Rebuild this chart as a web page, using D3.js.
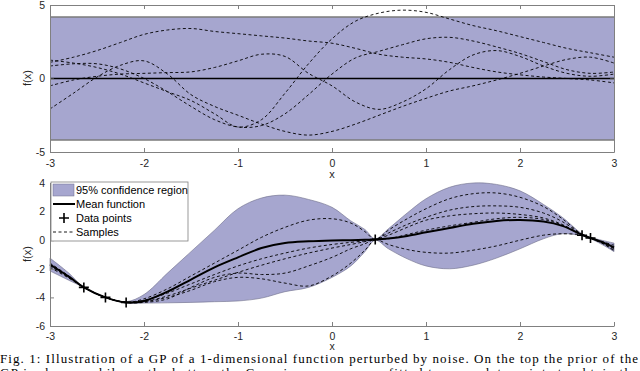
<!DOCTYPE html>
<html>
<head>
<meta charset="utf-8">
<script src="https://cdn.jsdelivr.net/npm/d3@7"></script>
<style>
body { margin: 0; background: #fff; }
text { font-family: "Liberation Sans", Arial, sans-serif; }
.tick text { font-size: 10.5px; fill: #262626; }
.tick line, .domain { stroke: #808080; }
</style>
</head>
<body>
<svg id="chart" width="640" height="371"></svg>
<script>
// prior (top panel)
var priorX = [-3, -2.75, -2.5, -2.25, -2, -1.75, -1.5, -1.25, -1, -0.75, -0.5, -0.25, 0,
              0.25, 0.5, 0.75, 1, 1.25, 1.5, 1.75, 2, 2.25, 2.5, 2.75, 3];
var priorBand = [4.18, -4.18];
var priorMean = [0, 0];
var priorA = [1.1, 1.45, 1.9, 2.45, 3.0, 3.3, 3.4, 3.2, 3.05, 2.9, 2.75, 2.55, 2.4,
              2.05, 1.65, 1.45, 1.33, 1.1, 0.75, 0.45, 0.25, 0.1, 0.0, -0.1, -0.3];
var priorB = [-0.5, -0.1, 0.15, 0.3, 0.35, 0.4, 0.45, 0.75, 1.2, 1.65, 1.5, 0.35, -0.5,
              -1.6, -2.1, -1.6, -0.7, 0.6, 1.6, 1.9, 1.5, 0.85, 0.35, 0.15, 0.3];
var priorC = [-2.07, -1.0, 0.1, 0.9, 1.2, 0.3, -1.1, -1.9, -2.5, -3.1, -3.6, -3.85, -3.6,
              -3.1, -2.5, -1.9, -1.35, -0.85, -0.5, -0.1, 0.35, 0.85, 1.3, 1.45, 1.05];
var priorD = [0.85, 1.0, 1.0, 0.65, 0.0, -0.9, -1.9, -2.8, -3.3, -3.2, -2.4, -1.1, 0.3,
              1.4, 1.85, 2.3, 2.7, 2.8, 2.55, 2.15, 1.7, 1.15, 0.6, 0.35, 0.44];
var priorE = [1.25, 1.05, 0.75, 0.3, -0.3, -0.9, -1.5, -2.4, -3.3, -2.8, -1.0, 1.0, 2.7,
              3.9, 4.45, 4.65, 4.5, 4.05, 3.6, 3.25, 2.85, 2.45, 2.05, 1.75, 1.45];

// posterior (bottom panel)
var postX = [-3, -2.8, -2.64, -2.41, -2.19, -2, -1.75, -1.5, -1.25, -1, -0.75, -0.5, -0.25, 0,
             0.2, 0.35, 0.46, 0.6, 0.8, 1, 1.25, 1.5, 1.75, 2, 2.25, 2.45, 2.66, 2.75, 2.9, 3];
var postMean = [-1.7, -2.55, -3.3, -4.0, -4.35, -4.25, -3.6, -2.75, -1.9, -1.2, -0.55, -0.2, -0.08, -0.02,
                0.0, 0.03, 0.05, 0.12, 0.3, 0.55, 0.85, 1.15, 1.35, 1.42, 1.3, 1.0, 0.38, 0.15, -0.2, -0.5];
var postUpper = [-1.25, -2.3, -3.3, -4.0, -4.3, -3.8, -2.3, -0.8, 0.7, 2.2, 2.95, 3.15, 2.85, 2.3,
                 1.35, 0.75, 0.1, 0.8, 1.9, 2.9, 3.7, 4.0, 3.9, 3.45, 2.5, 1.6, 0.45, 0.2, -0.05, -0.2];
var postLower = [-2.15, -2.8, -3.3, -4.0, -4.4, -4.4, -4.38, -4.35, -4.3, -4.25, -4.05, -3.6, -3.3, -2.6,
                 -1.8, -0.8, 0.0, -0.6, -1.3, -1.8, -2.0, -1.75, -1.25, -0.6, 0.1, 0.45, 0.3, 0.1, -0.4, -0.8];
var postS1 = [-1.6, -2.5, -3.3, -4.0, -4.35, -4.1, -3.4, -2.5, -1.6, -0.7, 0.2, 0.9, 1.4, 1.5,
              1.2, 0.6, 0.05, 0.7, 1.5, 2.2, 2.9, 3.25, 3.3, 3.0, 2.35, 1.5, 0.4, 0.15, -0.15, -0.35];
var postS2 = [-1.8, -2.6, -3.3, -4.0, -4.35, -4.2, -3.7, -3.05, -2.4, -1.8, -1.3, -0.9, -0.55, -0.3,
              -0.15, -0.05, 0.05, 0.5, 1.1, 1.6, 2.1, 2.35, 2.4, 2.3, 1.9, 1.3, 0.4, 0.15, -0.2, -0.55];
var postS3 = [-1.9, -2.65, -3.3, -4.0, -4.35, -4.3, -3.9, -3.35, -2.8, -2.25, -1.75, -1.3, -0.9, -0.55,
              -0.3, -0.1, 0.05, 0.35, 0.9, 1.4, 1.7, 1.85, 1.9, 1.8, 1.55, 1.1, 0.38, 0.15, -0.25, -0.6];
var postS4 = [-1.7, -2.55, -3.3, -4.0, -4.35, -4.3, -4.0, -3.5, -2.9, -2.6, -2.7, -3.0, -3.2, -2.5,
              -1.6, -0.7, 0.05, 0.1, 0.4, 0.7, 1.0, 1.25, 1.5, 1.6, 1.45, 1.05, 0.36, 0.15, -0.3, -0.7];
var postS5 = [-1.75, -2.6, -3.3, -4.0, -4.35, -4.35, -4.1, -3.3, -2.6, -2.3, -2.4, -2.3, -1.8, -1.2,
              -0.6, -0.25, 0.05, -0.3, -0.65, -0.85, -0.9, -0.7, -0.4, 0.0, 0.35, 0.45, 0.36, 0.15, -0.3, -0.75];
var dataX = [-2.64, -2.41, -2.19, 0.46, 2.66, 2.75];
var dataY = [-3.3, -4.0, -4.35, 0.05, 0.35, 0.15];

var xTicks = [-3, -2, -1, 0, 1, 2, 3];
var topYTicks = [-5, 0, 5];
var botYTicks = [-6, -4, -2, 0, 2, 4];
var legendLabels = ["95% confidence region", "Mean function", "Data points", "Samples"];
var captionLines = [
    "Fig. 1: Illustration of a GP of a 1-dimensional function perturbed by noise. On the top the prior of the",
    "GP is shown, while on the bottom the Gaussian process was fitted to some data points to obtain the"
];

var bandFill = "#a6a6cf";
var svg = d3.select("#chart");

var x = d3.scaleLinear().domain([-3, 3]).range([50, 614]);
var yTop = d3.scaleLinear().domain([-5, 5]).range([152, 5]);
var yBot = d3.scaleLinear().domain([-6, 4]).range([326, 183]);
var plain = function(d) { return String(d); };

function pairs(xs, ys) {
    return xs.map(function(v, i) { return [v, ys[i]]; });
}

function lineFor(y) {
    return d3.line()
        .x(function(d) { return x(d[0]); })
        .y(function(d) { return y(d[1]); })
        .curve(d3.curveCatmullRom.alpha(0.5));
}

// ---- top panel ----
var topG = svg.append("g");

topG.append("path")
    .datum([-3, 3])
    .attr("fill", bandFill)
    .attr("d", d3.area()
        .x(function(d) { return x(d); })
        .y0(yTop(priorBand[1]))
        .y1(yTop(priorBand[0])));

priorBand.forEach(function(b) {
    topG.append("line")
        .attr("x1", x(-3)).attr("x2", x(3))
        .attr("y1", yTop(b)).attr("y2", yTop(b))
        .attr("stroke", "#7a7a7a").attr("stroke-width", 1.4);
});

topG.append("path")
    .datum(pairs([-3, 3], priorMean))
    .attr("fill", "none").attr("stroke", "#000").attr("stroke-width", 1.3)
    .attr("d", lineFor(yTop));

[priorA, priorB, priorC, priorD, priorE].forEach(function(s) {
    topG.append("path")
        .datum(pairs(priorX, s))
        .attr("fill", "none").attr("stroke", "#000").attr("stroke-width", 0.9)
        .attr("stroke-dasharray", "3,2.5")
        .attr("d", lineFor(yTop));
});

topG.append("g").attr("transform", "translate(0,152)")
    .call(d3.axisBottom(x).tickValues(xTicks).tickFormat(plain)
        .tickSizeInner(-4).tickSizeOuter(0).tickPadding(8));
topG.append("g").attr("transform", "translate(0,5)")
    .call(d3.axisTop(x).tickValues(xTicks).tickSizeInner(-4).tickSizeOuter(0).tickFormat(""));
topG.append("g").attr("transform", "translate(50,0)")
    .call(d3.axisLeft(yTop).tickValues(topYTicks).tickFormat(plain)
        .tickSizeInner(-4).tickSizeOuter(0).tickPadding(5));
topG.append("g").attr("transform", "translate(614,0)")
    .call(d3.axisRight(yTop).tickValues(topYTicks).tickSizeInner(-4).tickSizeOuter(0).tickFormat(""));

topG.append("text").attr("x", 332).attr("y", 178).attr("text-anchor", "middle")
    .attr("font-size", 11).attr("fill", "#262626").text("x");
topG.append("text").attr("transform", "translate(31,78) rotate(-90)").attr("text-anchor", "middle")
    .attr("font-size", 11).attr("fill", "#262626").text("f(x)");

// ---- bottom panel ----
var botG = svg.append("g");

botG.append("path")
    .datum(postX.map(function(v, i) { return [v, postLower[i], postUpper[i]]; }))
    .attr("fill", bandFill).attr("stroke", "#6e6e8a").attr("stroke-width", 0.6)
    .attr("d", d3.area()
        .x(function(d) { return x(d[0]); })
        .y0(function(d) { return yBot(d[1]); })
        .y1(function(d) { return yBot(d[2]); })
        .curve(d3.curveCatmullRom.alpha(0.5)));

[postS1, postS2, postS3, postS4, postS5].forEach(function(s) {
    botG.append("path")
        .datum(pairs(postX, s))
        .attr("fill", "none").attr("stroke", "#000").attr("stroke-width", 0.9)
        .attr("stroke-dasharray", "3,2.5")
        .attr("d", lineFor(yBot));
});

botG.append("path")
    .datum(pairs(postX, postMean))
    .attr("fill", "none").attr("stroke", "#000").attr("stroke-width", 2)
    .attr("d", lineFor(yBot));

botG.selectAll(".pt")
    .data(pairs(dataX, dataY))
    .enter().append("path")
    .attr("class", "pt")
    .attr("transform", function(d) { return "translate(" + x(d[0]) + "," + yBot(d[1]) + ")"; })
    .attr("d", "M-5,0H5M0,-5V5")
    .attr("stroke", "#000").attr("stroke-width", 1.6);

botG.append("g").attr("transform", "translate(0,326)")
    .call(d3.axisBottom(x).tickValues(xTicks).tickFormat(plain)
        .tickSizeInner(-4).tickSizeOuter(0).tickPadding(7));
botG.append("g").attr("transform", "translate(50,0)")
    .call(d3.axisLeft(yBot).tickValues(botYTicks).tickFormat(plain)
        .tickSizeInner(-4).tickSizeOuter(0).tickPadding(5));

botG.append("text").attr("x", 332).attr("y", 349.5).attr("text-anchor", "middle")
    .attr("font-size", 10.5).attr("fill", "#262626").text("x");
botG.append("text").attr("transform", "translate(31,254) rotate(-90)").attr("text-anchor", "middle")
    .attr("font-size", 11).attr("fill", "#262626").text("f(x)");

// legend
var leg = botG.append("g").attr("transform", "translate(51,182)");
leg.append("rect").attr("width", 137).attr("height", 59)
    .attr("fill", "#fff").attr("stroke", "#808080").attr("stroke-width", 0.8);
leg.append("rect").attr("x", 2).attr("y", 2).attr("width", 21).attr("height", 12)
    .attr("fill", bandFill).attr("stroke", "#6e6e8a").attr("stroke-width", 0.5);
leg.append("line").attr("x1", 2).attr("x2", 24).attr("y1", 22).attr("y2", 22)
    .attr("stroke", "#000").attr("stroke-width", 2);
leg.append("path").attr("d", "M8,36H18M13,31V41").attr("stroke", "#000").attr("stroke-width", 1.6);
leg.append("line").attr("x1", 2).attr("x2", 24).attr("y1", 50).attr("y2", 50)
    .attr("stroke", "#000").attr("stroke-width", 0.9).attr("stroke-dasharray", "3,2.5");
leg.selectAll(".lt")
    .data(legendLabels)
    .enter().append("text")
    .attr("class", "lt")
    .attr("x", 25)
    .attr("y", function(d, i) { return 8 + i * 14; })
    .attr("dy", "0.35em")
    .attr("font-size", 11).attr("fill", "#000")
    .text(function(d) { return d; });

// caption
svg.selectAll(".cap")
    .data(captionLines)
    .enter().append("text")
    .attr("class", "cap")
    .attr("x", 0)
    .attr("y", function(d, i) { return 363 + i * 14; })
    .attr("textLength", 638).attr("lengthAdjust", "spacing")
    .style("font-family", "'Liberation Serif', 'DejaVu Serif', serif")
    .attr("font-size", 13).attr("fill", "#000")
    .text(function(d) { return d; });
</script>
</body>
</html>
